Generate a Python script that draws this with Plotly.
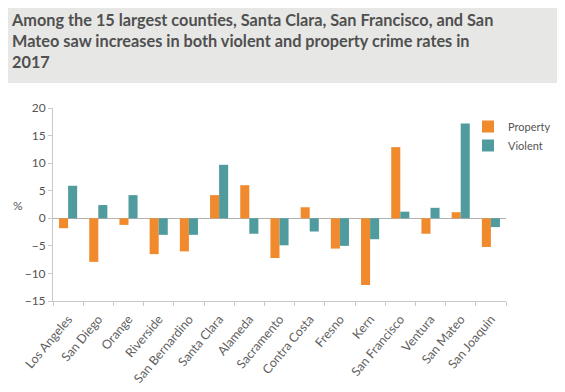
import plotly.graph_objects as go

counties = ["Los Angeles", "San Diego", "Orange", "Riverside", "San Bernardino",
            "Santa Clara", "Alameda", "Sacramento", "Contra Costa", "Fresno",
            "Kern", "San Francisco", "Ventura", "San Mateo", "San Joaquin"]
property_vals = [-1.8, -7.9, -1.2, -6.5, -6.0, 4.2, 6.0, -7.2, 2.0, -5.5,
                 -12.1, 12.9, -2.8, 1.1, -5.2]
violent_vals = [5.9, 2.4, 4.2, -3.0, -3.0, 9.7, -2.8, -4.9, -2.4, -5.0,
                -3.8, 1.2, 1.9, 17.2, -1.6]
y_ticks = [-15, -10, -5, 0, 5, 10, 15, 20]

# page body has an 8px margin; figure is sized to fit the 565x392 window
OFF = 8
W, H = 565 - OFF, 392 - OFF
# plot area in window pixels: x 53..506, y 108..301
L, T = 53 - OFF, 108 - OFF
R, B = W - (506 - OFF), H - (301 - OFF)
PW, PH = W - L - R, H - T - B


def px(x):  # window x -> paper
    return (x - OFF - L) / PW


def py(y):  # window y -> paper
    return (H - B - (y - OFF)) / PH


fig = go.Figure()
fig.add_trace(go.Bar(x=counties, y=property_vals, name="Property",
                     marker=dict(color="#F08A2C", line=dict(width=0))))
fig.add_trace(go.Bar(x=counties, y=violent_vals, name="Violent",
                     marker=dict(color="#4F9B9E", line=dict(width=0))))

axis_col = "#c8c8c8"
txt_col = "#555555"
fig.update_layout(
    width=W, height=H,
    margin=dict(l=L, r=R, t=T, b=B, pad=0, autoexpand=False),
    paper_bgcolor="white", plot_bgcolor="white",
    barmode="group", bargap=0.4, bargroupgap=0,
    font=dict(family="Lato, 'Open Sans', sans-serif", color=txt_col, size=11),
    showlegend=True,
    legend=dict(x=px(468), y=py(112), xref="paper", yref="paper", xanchor="left", yanchor="top",
                font=dict(size=11, color=txt_col), itemwidth=30, tracegroupgap=2,
                bgcolor="rgba(0,0,0,0)"),
    xaxis=dict(type="category", tickangle=-50, tickson="boundaries", automargin=False,
               ticks="outside", ticklen=4, tickcolor=axis_col, ticklabelstandoff=5,
               showline=True, linecolor=axis_col, linewidth=1,
               showgrid=False, zeroline=False,
               tickfont=dict(size=12.5, color="#606060")),
    yaxis=dict(range=[-15, 20], tickvals=y_ticks, ticks="outside", ticklen=4, automargin=False,
               tickcolor=axis_col, showline=True, linecolor=axis_col, linewidth=1,
               showgrid=False, zeroline=True, zerolinecolor="#b0b0b0", zerolinewidth=1,
               tickfont=dict(size=12, color=txt_col)),
    shapes=[dict(type="rect", xref="paper", yref="paper",
                 x0=px(OFF), x1=px(565), y0=py(83), y1=py(OFF),
                 fillcolor="#e7e7e5", line=dict(width=0), layer="below")],
    annotations=[
        dict(text="<b>Among the 15 largest counties, Santa Clara, San Francisco, and San<br>"
                  "Mateo saw increases in both violent and property crime rates in<br>2017</b>",
             xref="paper", yref="paper",
             x=px(9), y=py(8),
             xanchor="left", yanchor="top", align="left", showarrow=False,
             font=dict(size=16.3, color="#505050", family="Lato, 'Open Sans', sans-serif")),
        dict(text="%", xref="paper", yref="paper",
             x=px(18), y=py(205),
             xanchor="center", yanchor="middle", showarrow=False,
             font=dict(size=12, color=txt_col)),
    ],
)

fig.write_html("out.html")
